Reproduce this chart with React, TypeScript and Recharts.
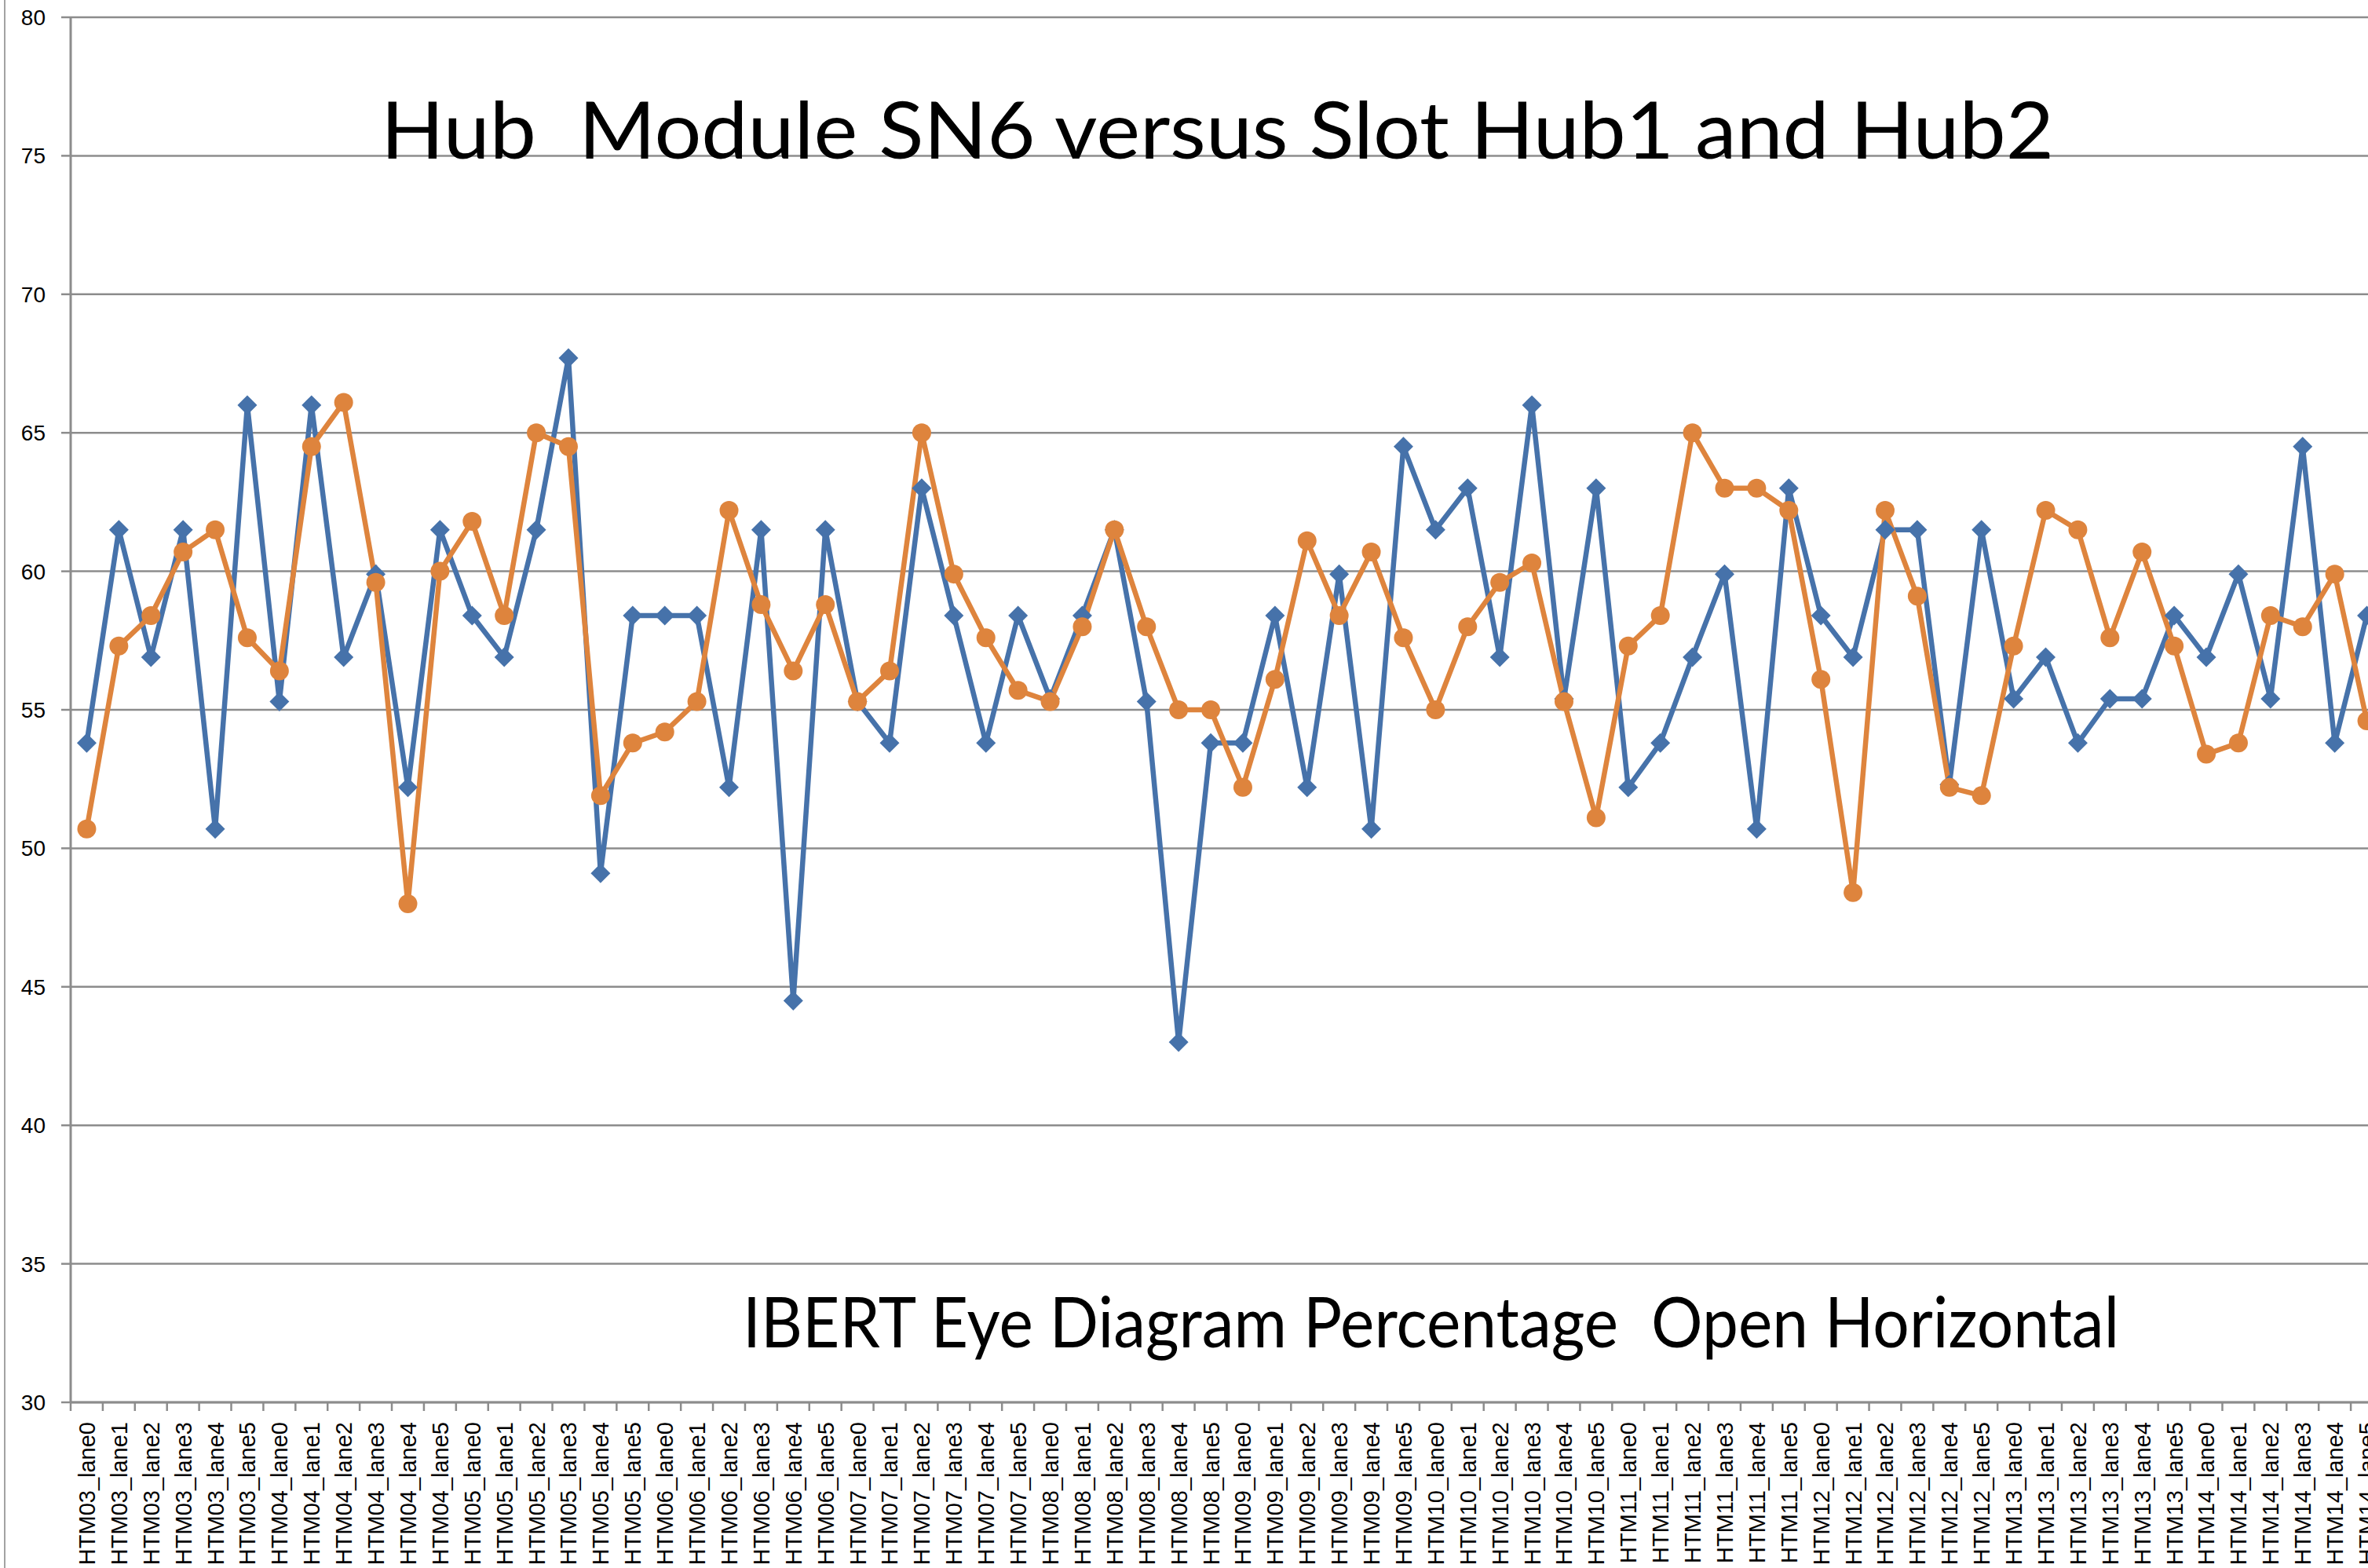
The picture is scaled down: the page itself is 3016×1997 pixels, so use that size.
import React from "react";
import { LineChart, Line, XAxis, YAxis, CartesianGrid } from "recharts";

// ---------- data ----------
const modules = ["HTM03", "HTM04", "HTM05", "HTM06", "HTM07", "HTM08", "HTM09", "HTM10", "HTM11", "HTM12", "HTM13", "HTM14"];
const lanes = ["lane0", "lane1", "lane2", "lane3", "lane4", "lane5"];
const categories: string[] = modules.flatMap((m) => lanes.map((l) => `${m}_${l}`));

const hub1: number[] = [
  53.8, 61.5, 56.9, 61.5, 50.7, 66.0, 55.3, 66.0, 56.9, 59.9, 52.2, 61.5,
  58.4, 56.9, 61.5, 67.7, 49.1, 58.4, 58.4, 58.4, 52.2, 61.5, 44.5, 61.5,
  55.3, 53.8, 63.0, 58.4, 53.8, 58.4, 55.4, 58.4, 61.5, 55.3, 43.0, 53.8,
  53.8, 58.4, 52.2, 59.9, 50.7, 64.5, 61.5, 63.0, 56.9, 66.0, 55.4, 63.0,
  52.2, 53.8, 56.9, 59.9, 50.7, 63.0, 58.4, 56.9, 61.5, 61.5, 52.3, 61.5,
  55.4, 56.9, 53.8, 55.4, 55.4, 58.4, 56.9, 59.9, 55.4, 64.5, 53.8, 58.4,
];

const hub2: number[] = [
  50.7, 57.3, 58.4, 60.7, 61.5, 57.6, 56.4, 64.5, 66.1, 59.6, 48.0, 60.0,
  61.8, 58.4, 65.0, 64.5, 51.9, 53.8, 54.2, 55.3, 62.2, 58.8, 56.4, 58.8,
  55.3, 56.4, 65.0, 59.9, 57.6, 55.7, 55.3, 58.0, 61.5, 58.0, 55.0, 55.0,
  52.2, 56.1, 61.1, 58.4, 60.7, 57.6, 55.0, 58.0, 59.6, 60.3, 55.3, 51.1,
  57.3, 58.4, 65.0, 63.0, 63.0, 62.2, 56.1, 48.4, 62.2, 59.1, 52.2, 51.9,
  57.3, 62.2, 61.5, 57.6, 60.7, 57.3, 53.4, 53.8, 58.4, 58.0, 59.9, 54.6,
];

const yTicks = [30, 35, 40, 45, 50, 55, 60, 65, 70, 75, 80];

const titleText = "Hub  Module SN6 versus Slot Hub1 and Hub2";
const subtitleText = "IBERT Eye Diagram Percentage  Open Horizontal";

const data = categories.map((name, i) => ({ name, hub1: hub1[i], hub2: hub2[i] }));

// ---------- layout ----------
const CHART_W = 3042;
const CHART_H = 1997;
const Y_AXIS_W = 90;
const MARGIN_RIGHT = 7;
const PLOT_W = CHART_W - Y_AXIS_W - MARGIN_RIGHT;
const STEP = PLOT_W / categories.length;

const BLUE = "#4672AA";
const ORANGE = "#DE843D";
const GRID = "#8c8c8c";
const TICK_FONT = "'Liberation Sans', Arial, sans-serif";

const XTick = (props: any) => {
  const { x, y, payload } = props;
  return (
    <g transform={`translate(${x},${y})`}>
      <line x1={-STEP / 2} y1={0} x2={-STEP / 2} y2={11} stroke={GRID} strokeWidth={2.5} />
      <text
        transform="rotate(-90)"
        x={-25}
        y={0}
        dy="0.36em"
        textAnchor="end"
        fontSize={29}
        fontFamily={TICK_FONT}
        fill="#000"
      >
        {payload.value}
      </text>
    </g>
  );
};

const Diamond = (props: any) => {
  const { cx, cy, index } = props;
  if (cx == null || cy == null) return <g key={`d-${index}`} />;
  const r = 12.5;
  return (
    <path
      key={`d-${index}`}
      d={`M${cx},${cy - r}L${cx + r},${cy}L${cx},${cy + r}L${cx - r},${cy}Z`}
      fill={BLUE}
      stroke="none"
    />
  );
};

const Circle = (props: any) => {
  const { cx, cy, index } = props;
  if (cx == null || cy == null) return <g key={`c-${index}`} />;
  return <circle key={`c-${index}`} cx={cx} cy={cy} r={12} fill={ORANGE} stroke="none" />;
};

export default function App() {
  return (
    <div
      style={{
        position: "fixed",
        left: 0,
        top: 0,
        width: 3016,
        height: 1997,
        overflow: "hidden",
        background: "#fff",
      }}
    >
      <div style={{ position: "absolute", left: 5, top: 0, width: 2, height: 1997, background: "#a3a3a3" }} />
      <div style={{ position: "absolute", left: 0, top: 0 }}>
        <LineChart
          width={CHART_W}
          height={CHART_H}
          data={data}
          margin={{ top: 22, right: MARGIN_RIGHT, left: 0, bottom: 0 }}
        >
          <CartesianGrid horizontal vertical={false} stroke={GRID} strokeWidth={2.5} />
          <XAxis
            dataKey="name"
            scale="band"
            interval={0}
            height={211}
            tickSize={0}
            tickMargin={0}
            tickLine={false}
            axisLine={{ stroke: GRID, strokeWidth: 3 }}
            tick={<XTick />}
          />
          <YAxis
            type="number"
            domain={[30, 80]}
            ticks={yTicks}
            interval={0}
            width={Y_AXIS_W}
            tickSize={12}
            tickMargin={20}
            axisLine={{ stroke: GRID, strokeWidth: 3 }}
            tickLine={{ stroke: GRID, strokeWidth: 2.5 }}
            tick={{ fontSize: 28, fontFamily: TICK_FONT, fill: "#000" }}
          />
          <Line
            type="linear"
            dataKey="hub1"
            name="Hub1"
            stroke={BLUE}
            strokeWidth={6.5}
            dot={Diamond}
            activeDot={false}
            isAnimationActive={false}
          />
          <Line
            type="linear"
            dataKey="hub2"
            name="Hub2"
            stroke={ORANGE}
            strokeWidth={6.5}
            dot={Circle}
            activeDot={false}
            isAnimationActive={false}
          />
        </LineChart>
      </div>
      <svg
        width={3016}
        height={1997}
        style={{ position: "absolute", left: 0, top: 0, pointerEvents: "none" }}
      >
        <text
          x={485}
          y={202}
          fontSize={100}
          fontFamily="Lato, 'Open Sans', sans-serif"
          fill="#000"
          textLength={2131}
          lengthAdjust="spacingAndGlyphs"
          xmlSpace="preserve"
          style={{ whiteSpace: "pre" }}
        >
          {titleText}
        </text>
        <text
          x={946}
          y={1716}
          fontSize={90}
          fontFamily="Lato, 'Open Sans', sans-serif"
          fill="#000"
          textLength={1753}
          lengthAdjust="spacingAndGlyphs"
          xmlSpace="preserve"
          style={{ whiteSpace: "pre" }}
        >
          {subtitleText}
        </text>
      </svg>
    </div>
  );
}
